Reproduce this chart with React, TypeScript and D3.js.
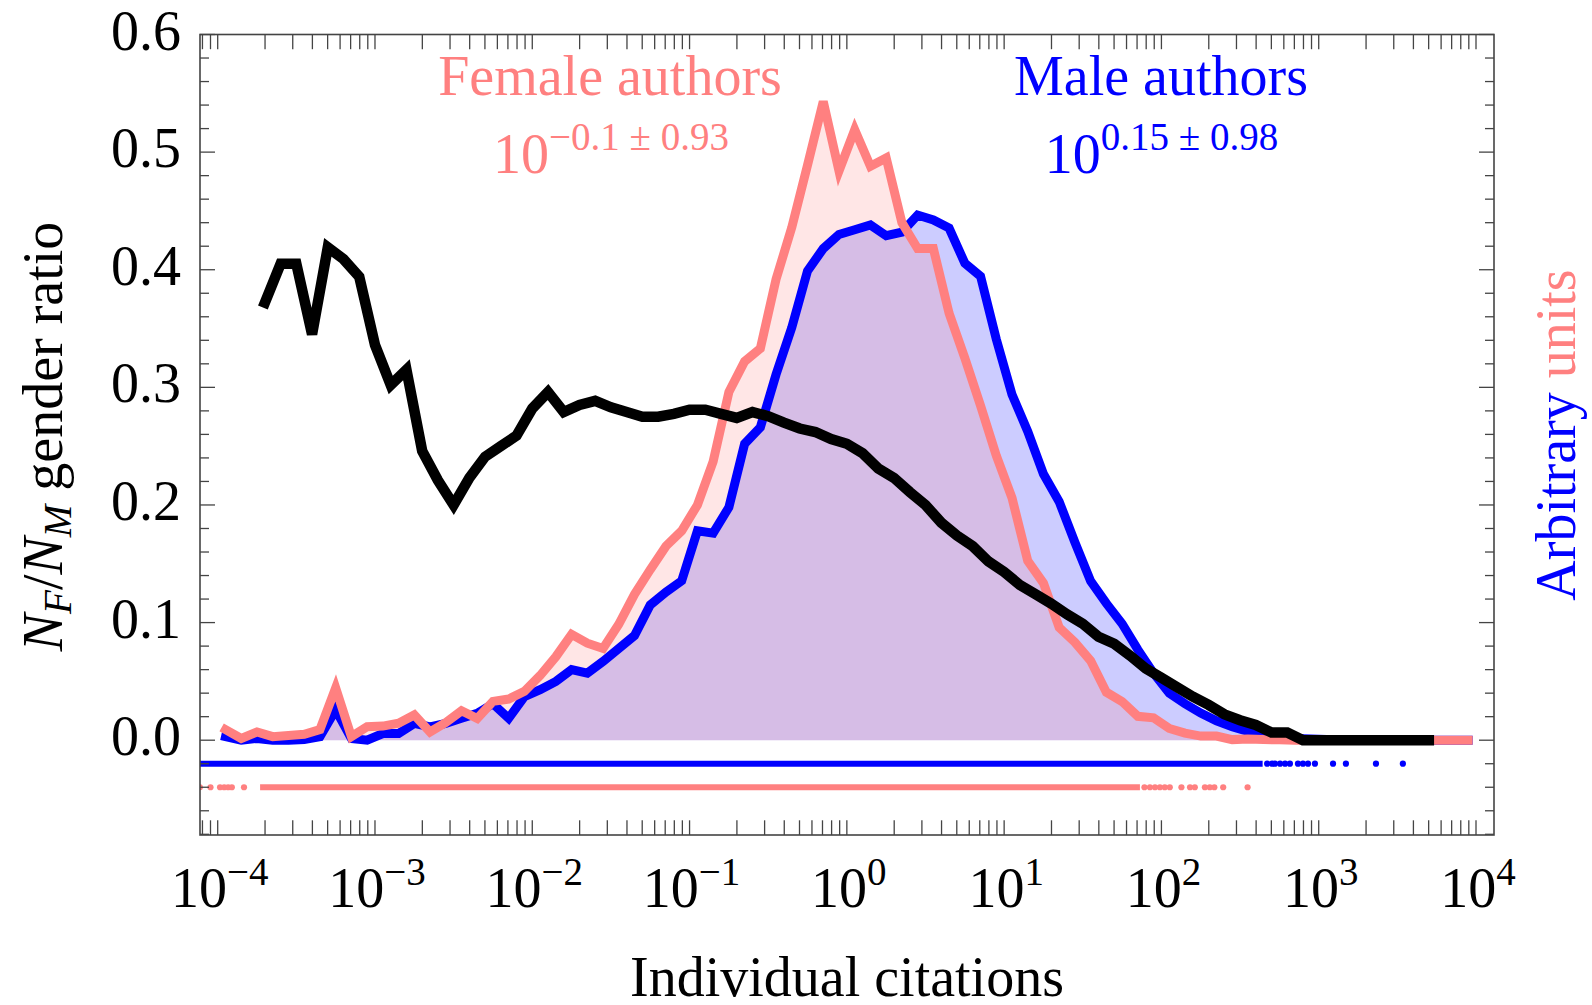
import React from 'react';
import * as d3 from 'd3';

// ---------- data ----------
// histogram bin centres (log10 of individual citations)
const binLog10 = [-3.95,-3.85,-3.75,-3.65,-3.55,-3.45,-3.35,-3.25,-3.15,-3.05,
  -2.95,-2.85,-2.75,-2.65,-2.55,-2.45,-2.35,-2.25,-2.15,-2.05,
  -1.95,-1.85,-1.75,-1.65,-1.55,-1.45,-1.35,-1.25,-1.15,-1.05,
  -0.95,-0.85,-0.75,-0.65,-0.55,-0.45,-0.35,-0.25,-0.15,-0.05,
  0.05,0.15,0.25,0.35,0.45,0.55,0.65,0.75,0.85,0.95,
  1.05,1.15,1.25,1.35,1.45,1.55,1.65,1.75,1.85,1.95,
  2.05,2.15,2.25,2.35,2.45,2.55,2.65,2.75,2.85,2.95,
  3.05,3.15,3.25,3.35,3.45,3.55,3.65,3.75,3.85,3.95];

const femaleDist = [0.009,0.0015,0.007,0.003,0.004,0.005,0.009,0.0445,0.003,0.0115,
  0.012,0.0145,0.0215,0.007,0.015,0.025,0.0185,0.033,0.035,0.0415,
  0.055,0.071,0.09,0.0825,0.078,0.0986,0.124,0.145,0.165,0.178,
  0.2,0.237,0.296,0.322,0.333,0.392,0.436,0.489,0.543,0.484,
  0.519,0.488,0.495,0.44,0.418,0.418,0.363,0.325,0.2845,0.242,
  0.206,0.1524,0.1336,0.0958,0.0832,0.0675,0.0408,0.0329,0.0203,0.019,
  0.01,0.006,0.0035,0.0035,0.0005,0.001,0.0005,0.0003,0,0,
  0,0,0,0,0,0,0,0,0,0];

const maleDist = [0.003,0,0.0015,0,0,0.0005,0.003,0.026,0.0015,0,
  0.0057,0.0057,0.0143,0.0114,0.0143,0.0186,0.0229,0.031,0.0186,0.037,
  0.043,0.05,0.06,0.057,0.067,0.078,0.089,0.115,0.126,0.1355,
  0.178,0.176,0.198,0.252,0.266,0.311,0.351,0.399,0.418,0.43,
  0.434,0.438,0.429,0.432,0.4465,0.4423,0.4354,0.4056,0.3945,0.341,
  0.294,0.2625,0.2263,0.2028,0.1682,0.1352,0.1163,0.099,0.077,0.057,
  0.04,0.031,0.023,0.0165,0.0115,0.0075,0.0045,0.003,0.0015,0.001,
  0.0005,0,0,0,0,0,0,0,0,0];

// gender ratio N_F/N_M
const ratioLog10 = [-3.7,-3.6,-3.5,-3.4,-3.3,-3.2,-3.1,-3.0,-2.9,-2.8,
  -2.7,-2.6,-2.5,-2.4,-2.3,-2.2,-2.1,-2.0,-1.9,-1.8,
  -1.7,-1.6,-1.5,-1.4,-1.3,-1.2,-1.1,-1.0,-0.9,-0.8,
  -0.7,-0.6,-0.5,-0.4,-0.3,-0.2,-0.1,0.0,0.1,0.2,
  0.3,0.4,0.5,0.6,0.7,0.8,0.9,1.0,1.1,1.2,
  1.3,1.4,1.5,1.6,1.7,1.8,1.9,2.0,2.1,2.2,
  2.3,2.4,2.5,2.6,2.7,2.8,2.9,3.0,3.1,3.2,
  3.3,3.4,3.5,3.6,3.7];

const ratioValues = [0.372,0.405,0.405,0.345,0.419,0.409,0.394,0.336,0.302,0.315,
  0.246,0.221,0.2,0.223,0.241,0.25,0.259,0.282,0.296,0.279,
  0.285,0.2885,0.283,0.279,0.275,0.275,0.2775,0.281,0.281,0.2775,
  0.274,0.279,0.2755,0.27,0.265,0.262,0.256,0.252,0.244,0.231,
  0.223,0.211,0.2,0.185,0.174,0.165,0.152,0.143,0.132,0.124,
  0.116,0.107,0.099,0.088,0.082,0.072,0.061,0.053,0.045,0.037,
  0.03,0.022,0.017,0.013,0.0065,0.0065,0,0,0,0,
  0,0,0,0,0];

// individual-author rug (citation values)
const maleRugLevel = -0.02;
const maleRugRange = [0.00005, 440];
const maleRugPoints = [470, 505, 527, 568, 611, 656, 738, 794, 855, 946, 1233, 1489, 2312, 3428];
const femaleRugLevel = -0.04;
const femaleRugRange = [0.000186, 73];
const femaleRugPoints = [0.000077, 0.00009, 0.0001035, 0.00011, 0.0001165, 0.000123, 0.000147,
  78, 84.5, 91, 97.8, 105, 113, 134, 152, 163, 189, 203, 217, 247, 353];

const xDecades = [-4, -3, -2, -1, 0, 1, 2, 3, 4];
const yLabels = [0, 0.1, 0.2, 0.3, 0.4, 0.5, 0.6];

// ---------- styles ----------
const PINK = '#FF8080';
const BLUE = '#0000FF';
const FONT = "'Liberation Serif', 'Times New Roman', serif";
const FRAME = '#444444';

type P = { c: number; v: number };

export default function App() {
  const L = 200, R = 1494, T = 34.5, B = 835;
  const x = d3.scaleLog().domain([Math.pow(10, -4.1125), Math.pow(10, 4.1144)]).range([L, R]);
  const y = d3.scaleLinear().domain([-0.0806, 0.6]).range([B, T]);

  const female: P[] = binLog10.map((l, i) => ({ c: Math.pow(10, l), v: femaleDist[i] }));
  const male: P[] = binLog10.map((l, i) => ({ c: Math.pow(10, l), v: maleDist[i] }));
  const ratio: P[] = ratioLog10.map((l, i) => ({ c: Math.pow(10, l), v: ratioValues[i] }));

  const area = d3.area<P>().x(d => x(d.c)).y0(y(0)).y1(d => y(d.v));
  const line = d3.line<P>().x(d => x(d.c)).y(d => y(d.v));

  const [d0, d1] = x.domain();
  const xTicks: number[] = [];
  for (let e = -5; e <= 4; e++) {
    for (let m = 1; m <= 9; m++) {
      const v = m * Math.pow(10, e);
      if (v >= d0 && v <= d1) xTicks.push(v);
    }
  }
  const yTicks: { v: number; major: boolean }[] = [];
  for (let k = -4; k <= 30; k++) {
    yTicks.push({ v: k * 0.02, major: k % 5 === 0 });
  }

  const tickLen = 14.7;
  const fs = 56;
  const sup = 39;

  return (
    <svg width={1592} height={1005} style={{ position: 'absolute', left: 0, top: 0, background: '#fff' }}
      fontFamily={FONT}>
      <defs>
        <clipPath id="plotClip">
          <rect x={L} y={T} width={R - L} height={B - T} />
        </clipPath>
      </defs>
      <rect x={0} y={0} width={1592} height={1005} fill="#fff" />

      <g clipPath="url(#plotClip)">
        {/* fills */}
        <path d={area(male) || ''} fill={BLUE} fillOpacity={0.2} />
        <path d={area(female) || ''} fill={PINK} fillOpacity={0.2} />
        {/* rugs */}
        <line x1={x(maleRugRange[0])} x2={x(maleRugRange[1])} y1={y(maleRugLevel)} y2={y(maleRugLevel)}
          stroke={BLUE} strokeWidth={6} />
        {maleRugPoints.map((v, i) => (
          <circle key={'mb' + i} cx={x(v)} cy={y(maleRugLevel)} r={3.1} fill={BLUE} />
        ))}
        <line x1={x(femaleRugRange[0])} x2={x(femaleRugRange[1])} y1={y(femaleRugLevel)} y2={y(femaleRugLevel)}
          stroke={PINK} strokeWidth={6} />
        {femaleRugPoints.map((v, i) => (
          <circle key={'fp' + i} cx={x(v)} cy={y(femaleRugLevel)} r={3.1} fill={PINK} />
        ))}
        {/* lines */}
        <path d={line(male) || ''} fill="none" stroke={BLUE} strokeWidth={9} strokeLinejoin="miter" strokeLinecap="square" />
        <path d={line(female) || ''} fill="none" stroke={PINK} strokeWidth={9} strokeLinejoin="miter" strokeLinecap="square" />
        <path d={line(ratio) || ''} fill="none" stroke="#000" strokeWidth={10.5} strokeLinejoin="miter" strokeLinecap="square" />
      </g>

      {/* frame */}
      <rect x={L} y={T} width={R - L} height={B - T} fill="none" stroke={FRAME} strokeWidth={1.6} />

      {/* x ticks */}
      {xTicks.map((v, i) => (
        <g key={'xt' + i} stroke={FRAME} strokeWidth={1.3}>
          <line x1={x(v)} x2={x(v)} y1={B} y2={B - tickLen} />
          <line x1={x(v)} x2={x(v)} y1={T} y2={T + tickLen} />
        </g>
      ))}
      {/* y ticks */}
      {yTicks.map((t, i) => {
        const len = t.major ? 15 : 9;
        return (
          <g key={'yt' + i} stroke={FRAME} strokeWidth={1.3}>
            <line x1={L} x2={L + len} y1={y(t.v)} y2={y(t.v)} />
            <line x1={R} x2={R - len} y1={y(t.v)} y2={y(t.v)} />
          </g>
        );
      })}

      {/* y tick labels */}
      {yLabels.map((v, i) => (
        <text key={'yl' + i} x={181} y={y(v) + 15} fontSize={fs} textAnchor="end" fill="#000">
          {v.toFixed(1)}
        </text>
      ))}
      {/* x tick labels */}
      {xDecades.map((e, i) => (
        <text key={'xl' + i} x={x(Math.pow(10, e)) + 2} y={906.7} fontSize={fs} textAnchor="middle" fill="#000">
          <tspan>10</tspan>
          <tspan fontSize={sup} dy={-22}>{e < 0 ? '\u2212' + Math.abs(e) : String(e)}</tspan>
        </text>
      ))}

      {/* axis titles */}
      <text x={847} y={996} fontSize={fs} textAnchor="middle" fill="#000">Individual citations</text>
      <text transform="translate(62,436.5) rotate(-90)" fontSize={fs} textAnchor="middle" fill="#000">
        <tspan fontStyle="italic">N</tspan>
        <tspan fontStyle="italic" fontSize={sup} dy={9}>F</tspan>
        <tspan dy={-9}>/</tspan>
        <tspan fontStyle="italic">N</tspan>
        <tspan fontStyle="italic" fontSize={sup} dy={9}>M</tspan>
        <tspan dy={-9}>{'\u00A0gender ratio'}</tspan>
      </text>
      <text transform="translate(1575,435) rotate(-90)" fontSize={fs} textAnchor="middle">
        <tspan fill={BLUE}>Arbitrary</tspan>
        <tspan fill={PINK}>{'\u00A0units'}</tspan>
      </text>

      {/* annotations */}
      <text x={610} y={95} fontSize={fs} textAnchor="middle" fill={PINK}>Female authors</text>
      <text x={611} y={173.3} fontSize={fs} textAnchor="middle" fill={PINK}>
        <tspan>10</tspan>
        <tspan fontSize={sup} dy={-23.3}>{'\u22120.1 \u00B1 0.93'}</tspan>
      </text>
      <text x={1161} y={95} fontSize={fs} textAnchor="middle" fill={BLUE}>Male authors</text>
      <text x={1161.5} y={173.3} fontSize={fs} textAnchor="middle" fill={BLUE}>
        <tspan>10</tspan>
        <tspan fontSize={sup} dy={-23.3}>{'0.15 \u00B1 0.98'}</tspan>
      </text>
    </svg>
  );
}
